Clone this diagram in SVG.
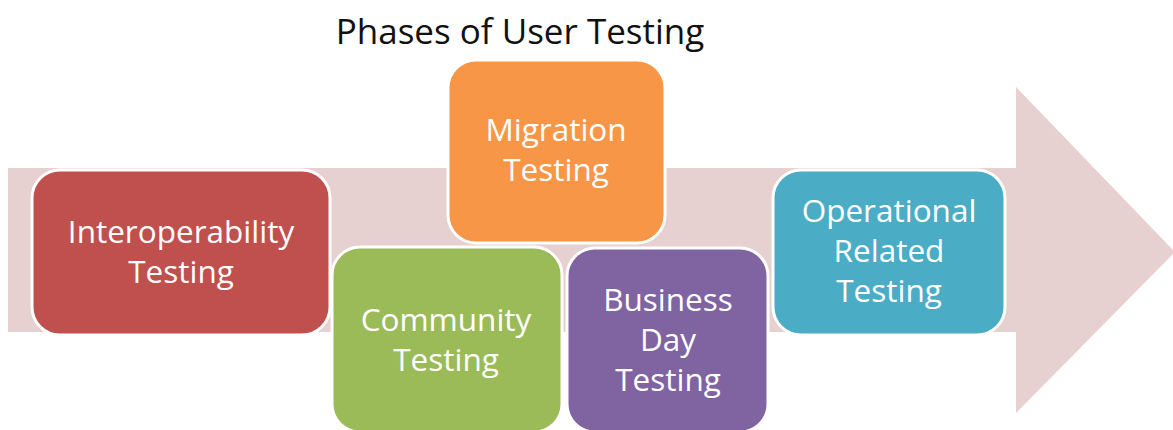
<svg xmlns="http://www.w3.org/2000/svg" width="1173" height="430" viewBox="0 0 1173 430">
<style>
.box{stroke:#ffffff;stroke-width:3}
.t{font-family:"Open Sans","Liberation Sans",sans-serif;font-size:31.5px;fill:#ffffff;text-anchor:middle}
.title{font-family:"Open Sans","Liberation Sans",sans-serif;font-size:35px;fill:#111111;text-anchor:middle}
</style>
<rect width="1173" height="430" fill="#ffffff"/>
<g id="arrow">
<polygon points="8,168 1016,168 1016,87 1175,252 1016,413 1016,332 8,332" fill="#E7D0D0"/>
</g>
<text class="title" x="520" y="44">Phases of User Testing</text>
<g id="connectors"></g>
<g id="n-interop">
<rect class="box" x="32" y="170" width="298" height="165" rx="28" fill="#C0504D"/>
<text class="t" x="181" y="243">Interoperability</text>
<text class="t" x="181" y="283">Testing</text>
</g>
<g id="n-migration">
<rect class="box" x="448" y="60" width="217" height="183" rx="28" fill="#F79646"/>
<text class="t" x="556" y="141">Migration</text>
<text class="t" x="556" y="181">Testing</text>
</g>
<g id="n-community">
<rect class="box" x="332" y="247" width="230" height="185" rx="28" fill="#9BBB59"/>
<text class="t" x="446" y="331">Community</text>
<text class="t" x="446" y="371">Testing</text>
</g>
<g id="n-business">
<rect class="box" x="567" y="248" width="201" height="184" rx="28" fill="#8064A2"/>
<text class="t" x="668" y="311">Business</text>
<text class="t" x="668" y="351">Day</text>
<text class="t" x="668" y="391">Testing</text>
</g>
<g id="n-operational">
<rect class="box" x="773" y="170" width="232" height="165" rx="28" fill="#4BACC6"/>
<text class="t" x="889" y="222">Operational</text>
<text class="t" x="889" y="262">Related</text>
<text class="t" x="889" y="302">Testing</text>
</g>
</svg>
